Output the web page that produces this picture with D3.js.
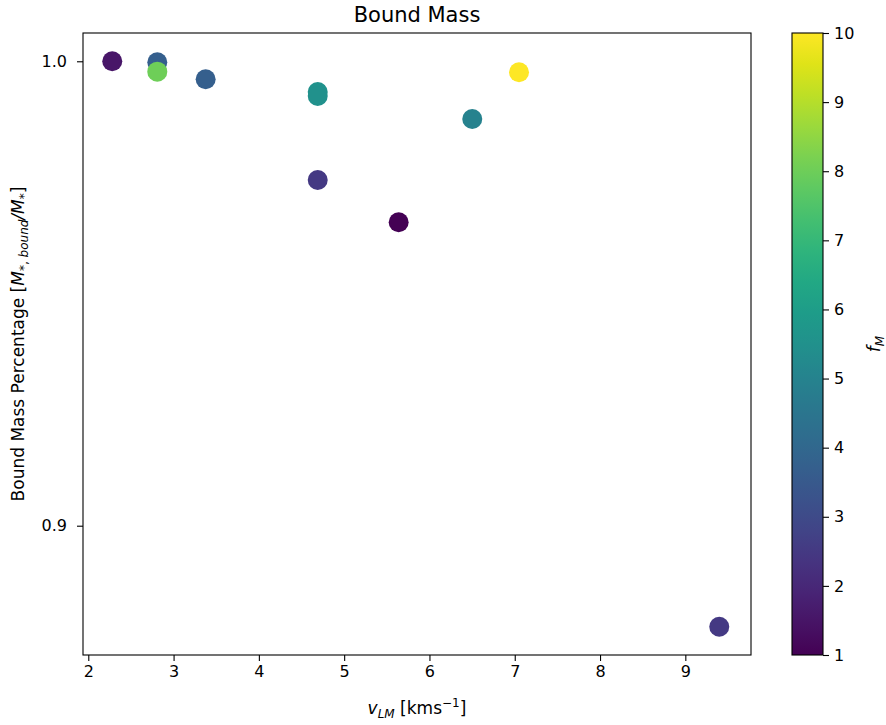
<!DOCTYPE html>
<html><head><meta charset="utf-8">
<script src="https://cdn.jsdelivr.net/npm/d3@7"></script>
<style>body{margin:0;background:#fff}text{font-family:"DejaVu Sans",sans-serif;fill:#000}</style>
</head><body>
<svg id="c" width="886" height="725"></svg>
<script>
const vLM = [2.281, 2.809, 2.809, 3.376, 4.690, 4.690, 6.502, 7.050, 4.690, 5.639, 9.398];
const boundFrac = [1.0000, 0.9998, 0.99776, 0.99612, 0.99339, 0.99253, 0.98758, 0.99763, 0.97444, 0.96533, 0.87825];
const fM = [1.5, 3.7, 8.0, 3.7, 5.6, 5.5, 5.0, 10, 2.5, 1.0, 2.5];
const xTicks = [2,3,4,5,6,7,8,9];
const yTicks = [0.9, 1.0];
const cTicks = [1,2,3,4,5,6,7,8,9,10];

const L=83, R=751, T=33, B=655;
const svg = d3.select("#c");
const x = d3.scaleLinear().domain([1.938, 9.770]).range([L, R]);
const y = d3.scaleLinear().domain([0.87216, 1.00609]).range([B, T]);
const cs = d3.scaleSequential(d3.interpolateViridis).domain([1, 10]);

svg.append("text").attr("x", (L+R)/2).attr("y", 22).attr("text-anchor","middle")
  .style("font-size","21px").text("Bound Mass");

// points
svg.append("g").selectAll("circle").data(vLM).join("circle")
  .attr("cx", (d,i)=>x(d)).attr("cy", (d,i)=>y(boundFrac[i])).attr("r", 10)
  .attr("fill", (d,i)=>cs(fM[i]));

// axes
const xa = svg.append("g").attr("transform",`translate(0,${B})`)
  .call(d3.axisBottom(x).tickValues(xTicks).tickFormat(d3.format("d")).tickSize(6).tickPadding(5));
const ya = svg.append("g").attr("transform",`translate(${L},0)`)
  .call(d3.axisLeft(y).tickValues(yTicks).tickFormat(d3.format(".1f")).tickSize(6).tickPadding(10));
[xa, ya].forEach(g=>{
  g.select(".domain").remove();
  g.selectAll("text").style("font-size","16px").attr("font-family","DejaVu Sans");
  g.selectAll("line").attr("stroke","#000").attr("stroke-width",1.1);
});
svg.append("rect").attr("x",L).attr("y",T).attr("width",R-L).attr("height",B-T)
  .attr("fill","none").attr("stroke","#000").attr("stroke-width",1.1);

// x label
const xl = svg.append("text").attr("x",(L+R)/2).attr("y",714).attr("text-anchor","middle").style("font-size","17px");
xl.append("tspan").attr("font-style","italic").text("v");
xl.append("tspan").attr("font-style","italic").attr("dy",4).style("font-size","12px").text("LM");
xl.append("tspan").attr("dy",-4).text(" [kms");
xl.append("tspan").attr("dy",-7).style("font-size","12px").text("−1");
xl.append("tspan").attr("dy",7).text("]");

// y label
const yl = svg.append("text").attr("transform",`translate(24,${(T+B)/2}) rotate(-90)`)
  .attr("text-anchor","middle").style("font-size","17px");
yl.append("tspan").text("Bound Mass Percentage [");
yl.append("tspan").attr("font-style","italic").text("M");
yl.append("tspan").attr("dy",4).style("font-size","12px").text("*, ");
yl.append("tspan").attr("font-style","italic").style("font-size","12px").text("bound");
yl.append("tspan").attr("dy",-4).attr("font-style","italic").text("/M");
yl.append("tspan").attr("dy",4).style("font-size","12px").text("*");
yl.append("tspan").attr("dy",-4).text("]");

// colorbar
const cL=792, cR=823;
const defs = svg.append("defs");
const grad = defs.append("linearGradient").attr("id","vg").attr("x1",0).attr("y1",1).attr("x2",0).attr("y2",0);
d3.range(0,1.0001,0.05).forEach(t=>grad.append("stop").attr("offset",t).attr("stop-color",d3.interpolateViridis(t)));
svg.append("rect").attr("x",cL).attr("y",T).attr("width",cR-cL).attr("height",B-T).attr("fill","url(#vg)")
  .attr("stroke","#000").attr("stroke-width",1.1);
const cy = d3.scaleLinear().domain([1,10]).range([B,T]);
const ca = svg.append("g").attr("transform",`translate(${cR},0)`)
  .call(d3.axisRight(cy).tickValues(cTicks).tickFormat(d3.format("d")).tickSize(6).tickPadding(5));
ca.select(".domain").remove();
ca.selectAll("text").style("font-size","16px").attr("font-family","DejaVu Sans");
ca.selectAll("line").attr("stroke","#000").attr("stroke-width",1.1);

const cl = svg.append("text").attr("transform",`translate(880,${(T+B)/2}) rotate(-90)`)
  .attr("text-anchor","middle").style("font-size","17px");
cl.append("tspan").attr("font-style","italic").text("f");
cl.append("tspan").attr("font-style","italic").attr("dy",4).style("font-size","12px").text("M");
</script>
</body></html>
